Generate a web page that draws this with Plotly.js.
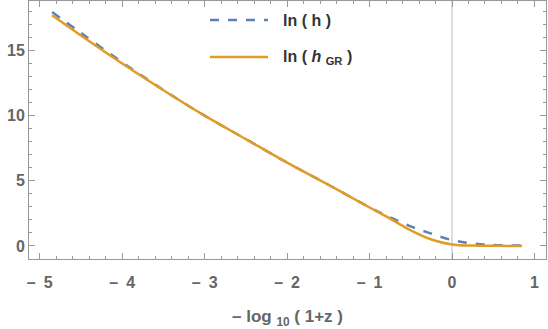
<!DOCTYPE html>
<html>
<head>
<meta charset="utf-8">
<script src="https://cdn.plot.ly/plotly-3.0.1.min.js"></script>
<style>
  html, body { margin: 0; padding: 0; background: #fff; }
  #chart { width: 548px; height: 329px; }
</style>
</head>
<body>
<div id="chart"></div>
<script>
// values
const xs = [-4.85, -4.5, -4, -3.5, -3, -2.5, -2, -1.5, -1, -0.75, -0.5, -0.25, 0, 0.25, 0.5, 0.85];
const lnH = [17.95, 16.35, 14.1, 11.97, 10.0, 8.2, 6.4, 4.7, 2.97, 2.2, 1.5, 0.95, 0.45, 0.2, 0.08, 0.03];
const lnHGR = [17.7, 16.15, 14.0, 11.95, 10.0, 8.2, 6.4, 4.7, 2.95, 2.1, 1.2, 0.5, 0.12, 0.03, 0.01, 0.0];

const xTicks = [-5, -4, -3, -2, -1, 0, 1];
const xTickText = ["–\u20025", "–\u20024", "–\u20023", "–\u20022", "–\u20021", "0", "1"];
const yTicks = [0, 5, 10, 15];

const BLUE = "#5E81B5";
const ORANGE = "#E19C24";
const TXT = "#666666";
const FONT = "Liberation Sans, Arial, sans-serif";

// plot area in pixels, used to place the hand-drawn legend
const L = 29, R = 546, T = 1, B = 259;
const px = (x) => (x - L) / (R - L);
const py = (y) => (B - y) / (B - T);

const data = [
  {
    x: xs,
    y: lnH,
    type: "scatter",
    mode: "lines",
    line: { color: BLUE, width: 2.5, dash: "dash", shape: "spline" },
    hoverinfo: "skip",
  },
  {
    x: xs,
    y: lnHGR,
    type: "scatter",
    mode: "lines",
    line: { color: ORANGE, width: 2.5, shape: "spline" },
    hoverinfo: "skip",
  },
];

const axisCommon = {
  showline: true,
  linecolor: "#999",
  linewidth: 1,
  mirror: "allticks",
  ticks: "inside",
  tickcolor: "#999",
  ticklen: 6,
  zeroline: false,
  showgrid: false,
  tickfont: { family: FONT, size: 16, color: TXT, weight: "bold" },
};

const layout = {
  width: 548,
  height: 329,
  margin: { l: L, r: 548 - R, t: T, b: 329 - B },
  paper_bgcolor: "#fff",
  plot_bgcolor: "#fff",
  showlegend: false,
  xaxis: Object.assign({}, axisCommon, {
    range: [-5.13, 1.14],
    tickmode: "array",
    tickvals: xTicks,
    ticktext: xTickText,
    ticklabelstandoff: 9,
    minor: { dtick: 0.2, ticklen: 3, ticks: "inside", tickcolor: "#999" },
    title: {
      text: "– log <sub>10</sub> ( 1+z )",
      font: { family: FONT, size: 17, color: TXT, weight: "bold" },
      standoff: 20,
    },
  }),
  yaxis: Object.assign({}, axisCommon, {
    range: [-1, 18.8],
    tickmode: "array",
    tickvals: yTicks,
    minor: { dtick: 1, ticklen: 3, ticks: "inside", tickcolor: "#999" },
  }),
  shapes: [
    { type: "line", xref: "x", yref: "paper", x0: 0, x1: 0, y0: 0, y1: 1,
      line: { color: "#c8c8c8", width: 1.2 }, layer: "below" },
    { type: "line", xref: "paper", yref: "paper", x0: px(210), x1: px(268), y0: py(20), y1: py(20),
      line: { color: BLUE, width: 2.5, dash: "dash" } },
    { type: "line", xref: "paper", yref: "paper", x0: px(210), x1: px(268), y0: py(57), y1: py(57),
      line: { color: ORANGE, width: 2.5 } },
  ],
  annotations: [
    { xref: "paper", yref: "paper", x: px(281), y: py(20), xanchor: "left", yanchor: "middle",
      text: "ln ( h )", showarrow: false,
      font: { family: FONT, size: 16, color: "#333", weight: "bold" } },
    { xref: "paper", yref: "paper", x: px(281), y: py(58), xanchor: "left", yanchor: "middle",
      text: "ln ( <i>h</i> <sub>GR</sub> )", showarrow: false,
      font: { family: FONT, size: 16, color: "#333", weight: "bold" } },
  ],
};

Plotly.newPlot("chart", data, layout, { displayModeBar: false, staticPlot: true });
</script>
</body>
</html>
